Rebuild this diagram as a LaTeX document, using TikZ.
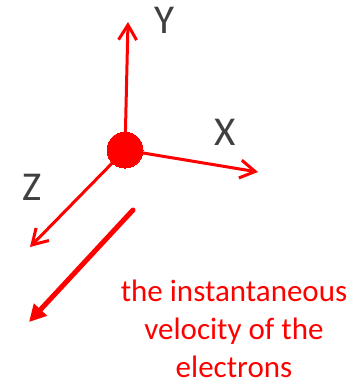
\documentclass[tikz,border=0pt]{standalone}
\usepackage{fontspec}
\setmainfont{Carlito}
\usetikzlibrary{arrows.meta,calc}
\usepackage{tkz-euclide}
\definecolor{axisgray}{RGB}{64,64,64}

\begin{document}
\begin{tikzpicture}[x=1pt,y=-1pt]
\useasboundingbox (0,0) rectangle (360,385);
\tkzSetUpLine[line width=3pt,color=red]

\tkzDefPoint(125,150){O}
\tkzDefPoint(143,150){R}
\tkzDefPoint(128,22){Y}
\tkzDefPoint(258,172){X}
\tkzDefPoint(30,247){Z}
\tkzDefPoint(133,210){V}
\tkzDefPoint(29,322){W}

\tkzDefPoint(164,20){LY}
\tkzDefPoint(225,132){LX}
\tkzDefPoint(32,187){LZ}
\tkzDefPoint(234,377){T}

\tkzDrawSegments[-{Straight Barb[length=15pt,width=18pt]}](O,Y O,X O,Z)
\tkzDrawSegment[line width=5pt,-{Triangle[length=17pt,width=17pt]}](V,W)
\tkzDrawCircle[fill=red,draw=red,line width=0pt](O,R)

\tkzLabelPoint[anchor=center,text=axisgray,font=\fontsize{41}{43}\selectfont](LY){Y}
\tkzLabelPoint[anchor=center,text=axisgray,font=\fontsize{41}{43}\selectfont](LX){X}
\tkzLabelPoint[anchor=center,text=axisgray,font=\fontsize{41}{43}\selectfont](LZ){Z}
\tkzLabelPoint[anchor=base,align=center,text=red,font=\fontsize{31}{38}\selectfont](T){the instantaneous\\velocity of the\\electrons}

\end{tikzpicture}
\end{document}
